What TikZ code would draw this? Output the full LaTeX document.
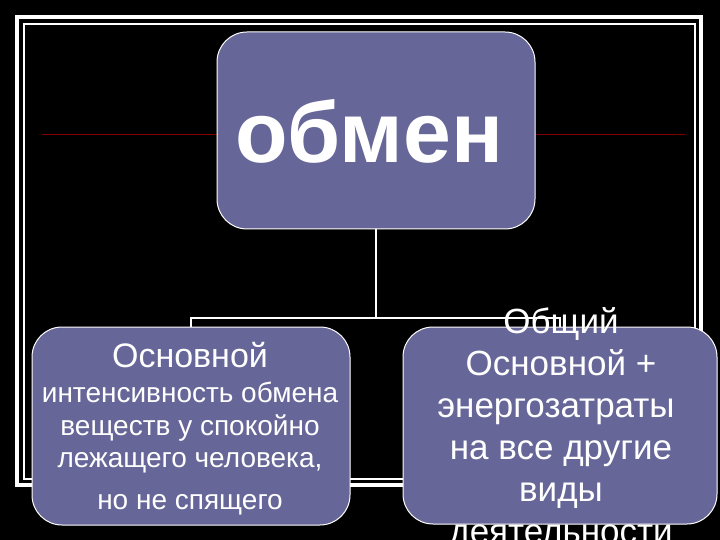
\documentclass[tikz,border=0pt]{standalone}
\usepackage{fontspec}
\setmainfont{Liberation Sans}
\usepackage{tikz}

\definecolor{boxfill}{RGB}{102,102,153}
\definecolor{darkline}{RGB}{128,0,0}

\tikzset{
  unitbox/.style={draw=white, line width=1pt, fill=boxfill, rounded corners=30pt, inner sep=0pt},
  wtext/.style={text=white, inner sep=0pt, anchor=base},
  conn/.style={draw=white, line width=2pt}
}

\begin{document}
\begin{tikzpicture}[x=1pt, y=-1pt]
\fill[black] (0,0) rectangle (720,540);
\useasboundingbox (0,0) rectangle (720,540);
% frame
\draw[white, line width=4pt] (17,17) rectangle (701,485);
\draw[white, line width=1.5pt] (24,24) rectangle (695,479);
\draw[darkline, line width=1pt] (42,135) -- (685,135);
% boxes
\node[unitbox, minimum width=318pt, minimum height=197pt] (obmen) at (376,130.5) {};
\node[unitbox, minimum width=318pt, minimum height=198pt] (basal) at (191,426) {};
\node[unitbox, minimum width=314pt, minimum height=197pt] (total) at (560,425.5) {};
% connectors
\coordinate (split) at (376,318);
\draw[conn] (obmen.south) -- (split);
\draw[conn] (split) -| (basal.north);
\draw[conn] (split) -| (total.north);
% texts
\node[wtext] (obmentext) at (369,163) {\fontsize{86}{90}\selectfont\bfseries обмен};
\node[wtext] (b1) at (190,367) {\fontsize{34}{38}\selectfont Основной};
\node[wtext] (b2) at (190,402) {\fontsize{28}{32}\selectfont интенсивность обмена};
\node[wtext] (b3) at (190,435) {\fontsize{28}{32}\selectfont веществ у спокойно};
\node[wtext] (b4) at (190,467) {\fontsize{28}{32}\selectfont лежащего человека,};
\node[wtext] (b5) at (190,509) {\fontsize{28}{32}\selectfont но не спящего};
\node[wtext] (t1) at (561,333) {\fontsize{35}{38}\selectfont Общий};
\node[wtext] (t2) at (561,375) {\fontsize{35}{38}\selectfont Основной +};
\node[wtext] (t3) at (556,417) {\fontsize{35}{38}\selectfont энергозатраты};
\node[wtext] (t4) at (561,459) {\fontsize{35}{38}\selectfont на все другие};
\node[wtext] (t5) at (561,501) {\fontsize{35}{38}\selectfont виды};
\node[wtext] (t6) at (561,543) {\fontsize{35}{38}\selectfont деятельности};
\end{tikzpicture}
\end{document}
